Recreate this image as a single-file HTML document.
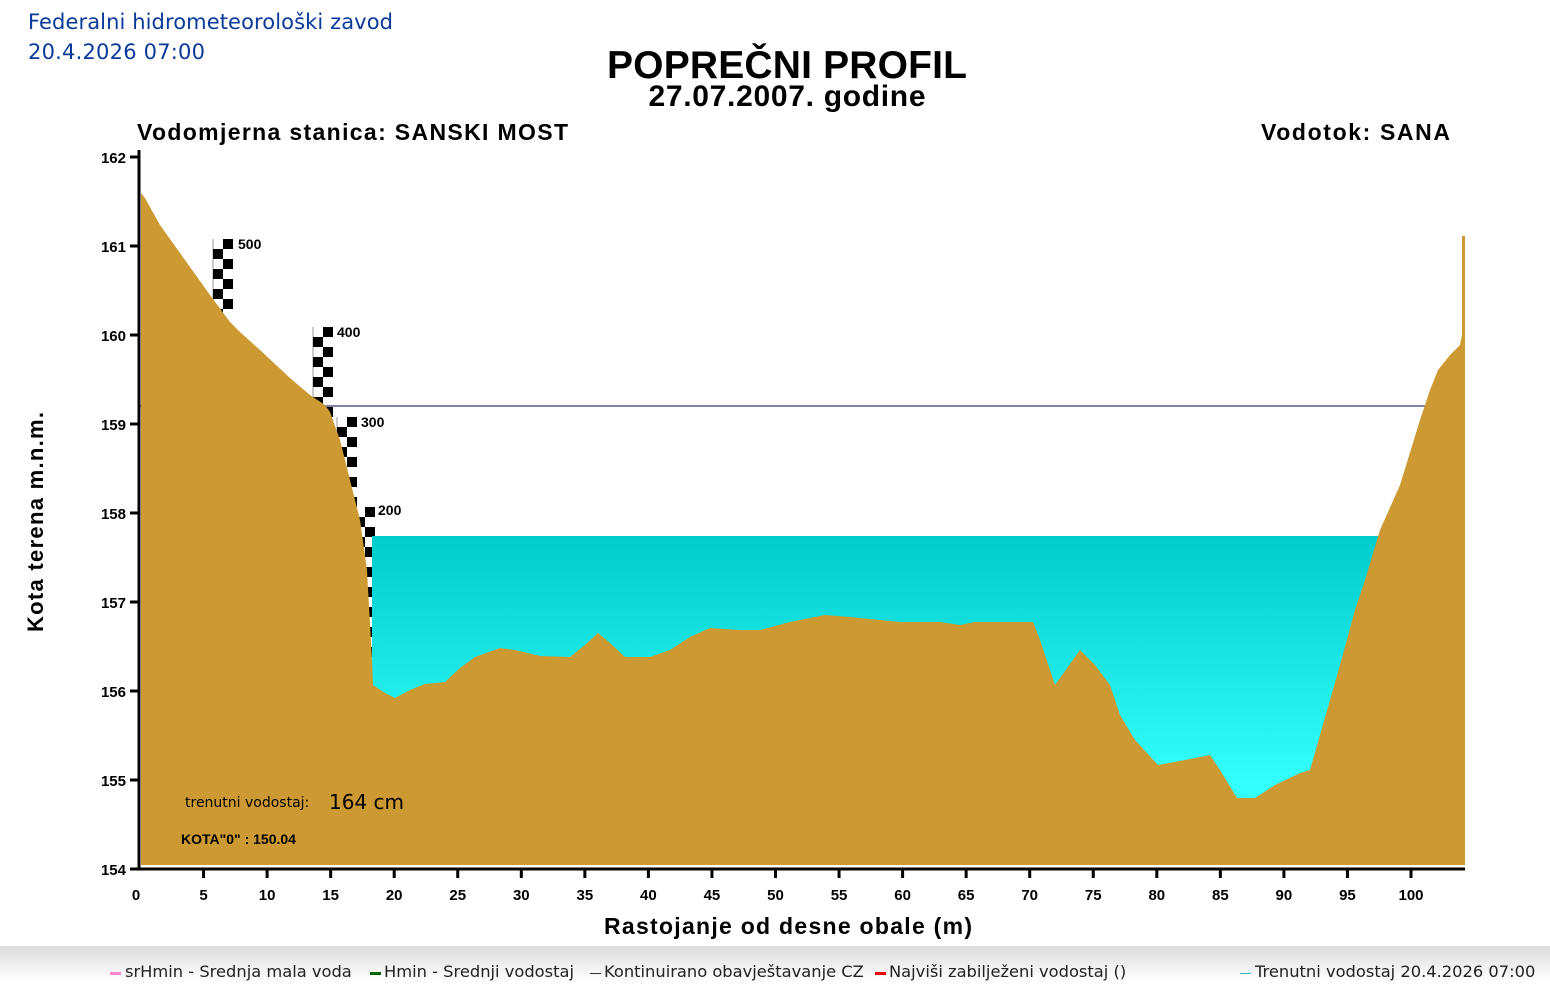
<!DOCTYPE html>
<html><head><meta charset="utf-8"><style>
body{margin:0;width:1550px;height:1000px;background:#fff;overflow:hidden;position:relative;font-family:"Liberation Sans",sans-serif}
</style></head><body>
<svg width="1550" height="1000" viewBox="0 0 1550 1000" xmlns="http://www.w3.org/2000/svg" style="position:absolute;left:0;top:0">
<defs>
<linearGradient id="w" x1="0" y1="0" x2="0" y2="1">
<stop offset="0" stop-color="#00cccc"/><stop offset="0.75" stop-color="#33ffff"/><stop offset="1" stop-color="#33ffff"/></linearGradient>
<linearGradient id="lg" x1="0" y1="0" x2="0" y2="1">
<stop offset="0" stop-color="#dcdcdc"/><stop offset="1" stop-color="#ffffff"/></linearGradient>
</defs>
<g font-family="DejaVu Sans, sans-serif" fill="#0a3a9a" font-size="21">
<text x="28" y="29" textLength="365">Federalni hidrometeorološki zavod</text>
<text x="28" y="59" textLength="177">20.4.2026 07:00</text>
</g>
<text x="787" y="78" text-anchor="middle" font-size="39" font-weight="bold" textLength="360">POPREČNI PROFIL</text>
<text x="787" y="106" text-anchor="middle" font-size="30" font-weight="bold" textLength="277">27.07.2007. godine</text>
<text x="137" y="140" font-size="23" font-weight="bold" textLength="431">Vodomjerna stanica: SANSKI MOST</text>
<text x="1261" y="140" font-size="23" font-weight="bold" textLength="189">Vodotok: SANA</text>
<g id="staffs"></g>
<g font-size="14" font-weight="bold"><text x="238" y="249">500</text><text x="337" y="337">400</text><text x="361" y="427">300</text><text x="378" y="515">200</text></g>
<rect x="140" y="405.5" width="1285" height="1" fill="#000050"/>
<rect x="372" y="536" width="1010" height="329" fill="url(#w)"/>
<polygon fill="#cc9933" points="141,193 145,198 160,225 185,260 210,295 230,322 240,332 260,350 290,378 310,395 325,405 330,412 340,440 350,480 360,520 367,570 372,660 373,685 385,693 395,698 410,690 425,684 445,682 460,668 475,657 500,648 515,650 540,656 570,657 585,645 598,633 610,643 625,657 650,657 670,650 690,637 710,628 740,630 760,630 790,622 825,615 850,617 880,620 900,622 940,622 960,625 975,622 1033,622 1040,640 1055,685 1080,650 1095,665 1110,685 1120,715 1135,740 1158,765 1185,760 1210,755 1220,770 1237,798 1255,798 1275,785 1300,773 1310,770 1320,735 1330,700 1340,665 1355,610 1365,580 1380,530 1400,485 1420,420 1430,390 1438,370 1450,355 1460,345 1462,335 1462,236 1465,236 1465,865 141,865"/>
<line x1="139" y1="150" x2="139" y2="870" stroke="#000" stroke-width="3"/>
<line x1="130" y1="869" x2="1465" y2="869" stroke="#000" stroke-width="3"/>
<g stroke="#000" stroke-width="3">
<line x1="130" y1="157" x2="139" y2="157"/><line x1="130" y1="246" x2="139" y2="246"/><line x1="130" y1="335" x2="139" y2="335"/><line x1="130" y1="424" x2="139" y2="424"/><line x1="130" y1="513" x2="139" y2="513"/><line x1="130" y1="602" x2="139" y2="602"/><line x1="130" y1="691" x2="139" y2="691"/><line x1="130" y1="780" x2="139" y2="780"/>
</g>
<g font-size="15" font-weight="bold" text-anchor="end">
<text x="126" y="163">162</text><text x="126" y="252">161</text><text x="126" y="341">160</text><text x="126" y="430">159</text><text x="126" y="519">158</text><text x="126" y="608">157</text><text x="126" y="697">156</text><text x="126" y="786">155</text><text x="126" y="875">154</text>
</g>
<g stroke="#000" stroke-width="3" id="xt"></g>
<g font-size="15" font-weight="bold" text-anchor="middle"><text x="136" y="900">0</text></g>
<g id="xl" font-size="15" font-weight="bold" text-anchor="middle"></g>
<text x="604" y="934" font-size="23" font-weight="bold" textLength="368">Rastojanje od desne obale (m)</text>
<text transform="translate(43,632) rotate(-90)" font-size="22" font-weight="bold" textLength="220">Kota terena m.n.m.</text>
<text x="185" y="807" font-family="DejaVu Sans, sans-serif" font-size="14">trenutni vodostaj:</text>
<text x="329" y="809" font-family="DejaVu Sans, sans-serif" font-size="20">164 cm</text>
<text x="181" y="844" font-size="14" font-weight="bold">KOTA"0" : 150.04</text>
<rect x="0" y="946" width="1550" height="36" fill="url(#lg)"/>
<g font-family="DejaVu Sans, sans-serif" font-size="16.3" fill="#222">
<rect x="110" y="972" width="11" height="3" fill="#ff88cc"/><text x="125" y="977">srHmin - Srednja mala voda</text>
<rect x="370" y="972" width="11" height="3" fill="#006600"/><text x="384" y="977">Hmin - Srednji vodostaj</text>
<rect x="590" y="973" width="11" height="1" fill="#333"/><text x="604" y="977">Kontinuirano obavještavanje CZ</text>
<rect x="875" y="972" width="11" height="3" fill="#ee0000"/><text x="889" y="977">Najviši zabilježeni vodostaj ()</text>
<rect x="1240" y="973" width="11" height="1" fill="#33bbbb"/><text x="1255" y="977">Trenutni vodostaj 20.4.2026 07:00</text>
</g>
</svg>
<script>
var ns="http://www.w3.org/2000/svg",t=document.getElementById("xt"),l=document.getElementById("xl");
for(var v=5;v<=100;v+=5){var x=140+v*12.71;var e=document.createElementNS(ns,"line");e.setAttribute("x1",x);e.setAttribute("x2",x);e.setAttribute("y1",869);e.setAttribute("y2",878);t.appendChild(e);
var s=document.createElementNS(ns,"text");s.setAttribute("x",x);s.setAttribute("y",900);s.textContent=v;l.appendChild(s);}
var st=document.getElementById("staffs");
function staff(x,y,h){var g=document.createElementNS(ns,"line");g.setAttribute("x1",x);g.setAttribute("x2",x);g.setAttribute("y1",y);g.setAttribute("y2",y+h);g.setAttribute("stroke","#999");st.appendChild(g);
for(var i=0;i*10<h;i++){var r=document.createElementNS(ns,"rect");r.setAttribute("x",i%2?x:x+10);r.setAttribute("y",y+i*10);r.setAttribute("width",10);r.setAttribute("height",10);r.setAttribute("fill","#000");st.appendChild(r);}}
staff(213,239,80);staff(313,327,82);staff(337,417,90);staff(355,507,165);
</script>
</body></html>
